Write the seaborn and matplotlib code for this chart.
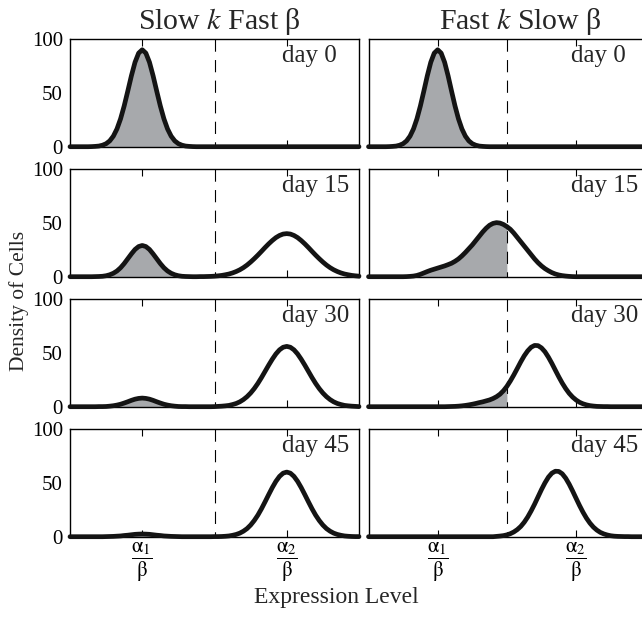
import numpy as np
import matplotlib
matplotlib.use("Agg")
import matplotlib.pyplot as plt
import seaborn as sns

# expression level grid (alpha1/beta = 1, alpha2/beta = 3, threshold = 2)
level = np.linspace(0, 4, 81)
days = [0, 15, 30, 45]
threshold = 2.0
tick_pos = [1, 3]
tick_labels = [r'$\dfrac{\mathrm{α}_1}{\mathrm{β}}$', r'$\dfrac{\mathrm{α}_2}{\mathrm{β}}$']
column_titles = ['Slow $k$ Fast β', 'Fast $k$ Slow β']

# density of cells (81 points per panel)
slow_k_day0 = [0, 0, 0, 0, 0, 0, 0.1, 0.3, 0.6, 1.4,
               2.8, 5.4, 9.8, 16.5, 25.9, 37.9, 51.7, 65.9, 78.4, 86.9,
               90.0, 86.9, 78.4, 65.9, 51.7, 37.9, 25.9, 16.5, 9.8, 5.4,
               2.8, 1.4, 0.6, 0.3, 0.1, 0, 0, 0, 0, 0,
               0, 0, 0, 0, 0, 0, 0, 0, 0, 0,
               0, 0, 0, 0, 0, 0, 0, 0, 0, 0,
               0, 0, 0, 0, 0, 0, 0, 0, 0, 0,
               0, 0, 0, 0, 0, 0, 0, 0, 0, 0,
               0]
slow_k_day15 = [0, 0, 0, 0, 0, 0, 0, 0.1, 0.2, 0.4,
                0.9, 1.8, 3.2, 5.3, 8.3, 12.2, 16.7, 21.2, 25.3, 28.0,
                29.0, 28.0, 25.3, 21.2, 16.7, 12.2, 8.3, 5.3, 3.2, 1.8,
                0.9, 0.4, 0.2, 0.1, 0, 0, 0.1, 0.1, 0.2, 0.3,
                0.5, 0.8, 1.2, 1.8, 2.5, 3.5, 4.8, 6.4, 8.4, 10.8,
                13.6, 16.7, 20.0, 23.5, 27.1, 30.5, 33.6, 36.3, 38.3, 39.6,
                40.0, 39.6, 38.3, 36.3, 33.6, 30.5, 27.1, 23.5, 20.0, 16.7,
                13.6, 10.8, 8.4, 6.4, 4.8, 3.5, 2.5, 1.8, 1.2, 0.8,
                0.5]
slow_k_day30 = [0, 0, 0, 0, 0, 0, 0, 0, 0.1, 0.1,
                0.2, 0.5, 0.9, 1.5, 2.3, 3.4, 4.6, 5.9, 7.0, 7.7,
                8.0, 7.7, 7.0, 5.9, 4.6, 3.4, 2.3, 1.5, 0.9, 0.5,
                0.2, 0.1, 0.1, 0, 0, 0, 0, 0, 0, 0,
                0.1, 0.3, 0.5, 0.8, 1.2, 2.0, 3.0, 4.5, 6.6, 9.3,
                12.7, 16.8, 21.6, 27.0, 32.8, 38.6, 44.1, 49.0, 52.8, 55.2,
                56.0, 55.2, 52.8, 49.0, 44.1, 38.6, 32.8, 27.0, 21.6, 16.8,
                12.7, 9.3, 6.6, 4.5, 3.0, 2.0, 1.2, 0.8, 0.5, 0.3,
                0.1]
slow_k_day45 = [0, 0, 0, 0, 0, 0, 0, 0, 0, 0,
                0.1, 0.2, 0.3, 0.5, 0.7, 1.1, 1.4, 1.8, 2.2, 2.4,
                2.5, 2.4, 2.2, 1.8, 1.4, 1.1, 0.7, 0.5, 0.3, 0.2,
                0.1, 0, 0, 0, 0, 0, 0, 0, 0, 0,
                0.1, 0.1, 0.2, 0.4, 0.7, 1.3, 2.1, 3.3, 5.1, 7.5,
                10.8, 15.0, 20.0, 25.9, 32.4, 39.1, 45.6, 51.4, 56.0, 59.0,
                60.0, 59.0, 56.0, 51.4, 45.6, 39.1, 32.4, 25.9, 20.0, 15.0,
                10.8, 7.5, 5.1, 3.3, 2.1, 1.3, 0.7, 0.4, 0.2, 0.1,
                0.1]

fast_k_day0 = [0, 0, 0, 0, 0, 0, 0.1, 0.3, 0.6, 1.4,
               2.8, 5.4, 9.8, 16.5, 25.9, 37.9, 51.7, 65.9, 78.4, 86.9,
               90.0, 86.9, 78.4, 65.9, 51.7, 37.9, 25.9, 16.5, 9.8, 5.4,
               2.8, 1.4, 0.6, 0.3, 0.1, 0, 0, 0, 0, 0,
               0, 0, 0, 0, 0, 0, 0, 0, 0, 0,
               0, 0, 0, 0, 0, 0, 0, 0, 0, 0,
               0, 0, 0, 0, 0, 0, 0, 0, 0, 0,
               0, 0, 0, 0, 0, 0, 0, 0, 0, 0,
               0]
fast_k_day15 = [0, 0, 0, 0, 0, 0, 0, 0, 0, 0,
                0, 0.1, 0.3, 0.6, 1.2, 2.2, 3.5, 4.8, 6.0, 7.0,
                8.0, 9.0, 10.0, 11.2, 12.5, 14.3, 16.5, 19.3, 22.5, 26.0,
                29.5, 33.5, 37.5, 41.5, 45.0, 47.8, 49.5, 50.2, 49.8, 48.5,
                46.5, 44.0, 40.5, 36.5, 32.5, 28.5, 24.5, 20.5, 16.5, 13.0,
                10.0, 7.5, 5.5, 3.8, 2.5, 1.6, 1.0, 0.6, 0.3, 0.1,
                0, 0, 0, 0, 0, 0, 0, 0, 0, 0,
                0, 0, 0, 0, 0, 0, 0, 0, 0, 0,
                0]
fast_k_day30 = [0, 0, 0, 0, 0, 0, 0, 0, 0, 0,
                0, 0, 0, 0, 0, 0, 0, 0, 0, 0,
                0, 0, 0, 0.1, 0.2, 0.3, 0.5, 0.8, 1.2, 1.7,
                2.3, 3.0, 3.8, 4.5, 5.4, 6.3, 7.6, 9.3, 11.6, 14.8,
                18.9, 23.9, 29.5, 35.5, 41.6, 47.2, 51.8, 55.2, 56.9, 56.7,
                54.6, 51.0, 46.0, 40.2, 33.9, 27.7, 21.9, 16.8, 12.4, 8.9,
                6.2, 4.1, 2.7, 1.7, 1.0, 0.6, 0.3, 0.2, 0.1, 0.1,
                0, 0, 0, 0, 0, 0, 0, 0, 0, 0,
                0]
fast_k_day45 = [0, 0, 0, 0, 0, 0, 0, 0, 0, 0,
                0, 0, 0, 0, 0, 0, 0, 0, 0, 0,
                0, 0, 0, 0, 0, 0, 0, 0, 0, 0,
                0, 0, 0, 0, 0, 0, 0, 0.3, 0.6, 1.0,
                1.7, 2.8, 4.4, 6.6, 9.5, 13.4, 18.2, 23.9, 30.2, 37.0,
                43.8, 50.0, 55.3, 59.0, 60.8, 60.6, 58.4, 54.3, 48.8, 42.4,
                35.6, 28.9, 22.7, 17.2, 12.6, 8.9, 6.1, 4.0, 2.6, 1.6,
                0.9, 0.5, 0.3, 0.2, 0.1, 0.1, 0, 0, 0, 0,
                0]

slow_k_curves = [slow_k_day0, slow_k_day15, slow_k_day30, slow_k_day45]
fast_k_curves = [fast_k_day0, fast_k_day15, fast_k_day30, fast_k_day45]

sns.set_theme(style='white')
plt.rcParams['font.family'] = ['Liberation Serif', 'DejaVu Serif']
plt.rcParams['mathtext.fontset'] = 'stix'
plt.rcParams['axes.edgecolor'] = 'black'
plt.rcParams['xtick.color'] = 'black'
plt.rcParams['ytick.color'] = 'black'

W, H = 642, 617
fig = plt.figure(figsize=(W / 100, H / 100), dpi=100)

col_left = [70, 368.5]
col_width = [289, 276.8]
row_bottom = [146.7, 276.7, 406.7, 536.7]
row_height = 107.7
fill_gray = '#a7a9ac'

for c, curves in enumerate([slow_k_curves, fast_k_curves]):
    for r, day in enumerate(days):
        ax = fig.add_axes([col_left[c] / W, 1 - row_bottom[r] / H,
                           col_width[c] / W, row_height / H])
        y = np.array(curves[r])
        ax.fill_between(level, y, where=level <= threshold + 1e-6,
                        color=fill_gray, lw=0, zorder=1)
        ax.plot([threshold, threshold], [100, 0], color='black', lw=0.8,
                dashes=(11, 7.5), zorder=2)
        sns.lineplot(x=level, y=y, ax=ax, color='#141414', linewidth=3.4,
                     sort=False, estimator=None, zorder=3, clip_on=False)
        ax.set_xlim(0, 4)
        ax.set_ylim(0, 100)
        ax.set_xlabel('')
        ax.set_ylabel('')
        ax.set_axisbelow(True)
        ax.set_xticks(tick_pos)
        ax.set_yticks([0, 50, 100])
        ax.tick_params(axis='x', direction='in', top=True, bottom=True,
                       length=5, width=0.8, pad=3)
        ax.tick_params(axis='y', length=0, pad=5)
        if r == 3:
            ax.set_xticklabels(tick_labels, fontsize=15)
        else:
            ax.set_xticklabels([])
        if c == 0:
            ax.set_yticklabels(['0', '50', '100'], fontsize=15)
        else:
            ax.set_yticklabels([])
        for sp in ax.spines.values():
            sp.set_linewidth(1.0)
            sp.set_color('black')
        ax.text(2.93, 79, f'day {day}', fontsize=18, ha='left', va='baseline')

fig.text(219 / W, 1 - 29 / H, column_titles[0], ha='center', va='baseline', fontsize=21.5)
fig.text(520 / W, 1 - 29 / H, column_titles[1], ha='center', va='baseline', fontsize=21.5)
fig.text(19 / W, 1 - 301 / H, 'Density of Cells', rotation=90,
         ha='center', va='center', fontsize=15.5)
fig.text(336 / W, 1 - 597 / H, 'Expression Level', ha='center', va='center', fontsize=17)

fig.savefig('out.png', dpi=100)
